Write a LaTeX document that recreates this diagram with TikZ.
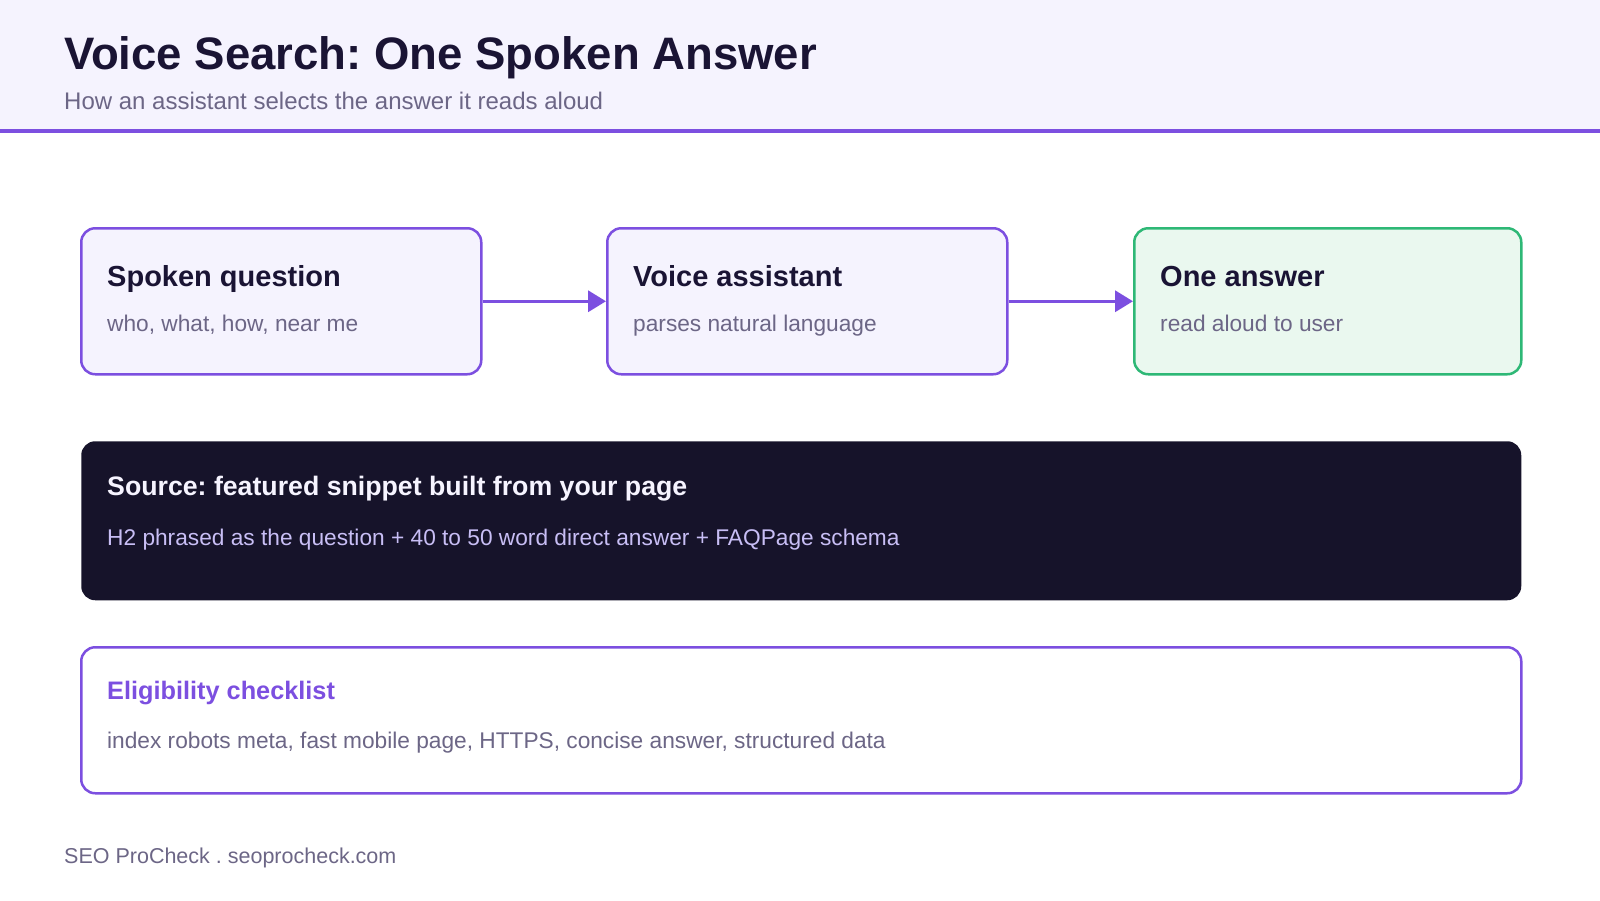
\documentclass[tikz,border=0pt]{standalone}
\usepackage{fontspec}
\setmainfont{Liberation Sans}
\usetikzlibrary{arrows.meta}
\frenchspacing

\newcommand{\pxsize}[1]{\fontsize{#1}{#1}\selectfont}

\begin{document}
\begin{tikzpicture}[x=1pt,y=-1pt,
        card/.style={draw=brand, line width=2.5pt, rounded corners=14pt, fill=cardbg,
            minimum width=400pt, minimum height=146pt, anchor=north west, inner sep=0pt},
        wide/.style={card, minimum width=1440pt},
        cardtitle/.style={anchor=base west, inner sep=0pt, text=ink, font=\pxsize{29}\bfseries},
        cardnote/.style={anchor=base west, inner sep=0pt, text=muted, font=\pxsize{22.7}},
        flow/.style={draw=brand, line width=3.5pt, -{Triangle[length=18pt,width=21pt]}}]
        % Define colors
        \definecolor{brand}{RGB}{124,79,224}
        \definecolor{cardbg}{RGB}{245,243,254}
        \definecolor{headbg}{RGB}{245,243,254}
        \definecolor{ink}{RGB}{26,20,52}
        \definecolor{muted}{RGB}{108,102,134}
        \definecolor{okline}{RGB}{46,184,118}
        \definecolor{okbg}{RGB}{234,248,239}
        \definecolor{night}{RGB}{22,19,42}
        \definecolor{lilac}{RGB}{200,190,245}

        % Canvas and header band
        \useasboundingbox (0,0) rectangle (1600,900);
        \fill[white] (0,0) rectangle (1600,900);
        \fill[headbg] (0,0) rectangle (1600,129);
        \fill[brand] (0,129) rectangle (1600,133);
        \node[anchor=base west, inner sep=0pt, text=ink, font=\pxsize{45.5}\bfseries] (title) at (64,69) {Voice Search: One Spoken Answer};
        \node[anchor=base west, inner sep=0pt, text=muted, font=\pxsize{24}] (subtitle) at (64,109) {How an assistant selects the answer it reads aloud};

        % Three steps
        \node[card] (question) at (80,227) {};
        \node[card] (assistant) at (606,227) {};
        \node[card, draw=okline, fill=okbg, minimum width=387pt] (answer) at (1133,227) {};

        \node[cardtitle] (questiont) at ([shift={(27,59)}]question.north west) {Spoken question};
        \node[cardnote] (questionn) at ([shift={(27,104)}]question.north west) {who, what, how, near me};
        \node[cardtitle] (assistantt) at ([shift={(27,59)}]assistant.north west) {Voice assistant};
        \node[cardnote] (assistantn) at ([shift={(27,104)}]assistant.north west) {parses natural language};
        \node[cardtitle] (answert) at ([shift={(27,59)}]answer.north west) {One answer};
        \node[cardnote] (answern) at ([shift={(27,104)}]answer.north west) {read aloud to user};

        \draw[flow] (question.east) -- (assistant.west);
        \draw[flow] (assistant.east) -- (answer.west);

        % Source box
        \node[wide, draw=none, fill=night, minimum height=159pt] (source) at (80,440) {};
        \node[cardtitle, text={rgb,255:red,246;green,244;blue,255}, font=\pxsize{26.7}\bfseries] (sourcet) at ([shift={(27,55)}]source.north west) {Source: featured snippet built from your page};
        \node[cardnote, text=lilac] (sourcen) at ([shift={(27,105)}]source.north west) {H2 phrased as the question + 40 to 50 word direct answer + FAQPage schema};

        % Checklist box
        \node[wide, fill=white, minimum height=146pt] (check) at (80,646) {};
        \node[cardtitle, text=brand, font=\pxsize{25.3}\bfseries] (checkt) at ([shift={(27,53)}]check.north west) {Eligibility checklist};
        \node[cardnote] (checkn) at ([shift={(27,102)}]check.north west) {index robots meta, fast mobile page, HTTPS, concise answer, structured data};

        % Footer
        \node[anchor=base west, inner sep=0pt, text=muted, font=\pxsize{21.5}] (footer) at (64,863) {SEO ProCheck . seoprocheck.com};

    \end{tikzpicture}
\end{document}
